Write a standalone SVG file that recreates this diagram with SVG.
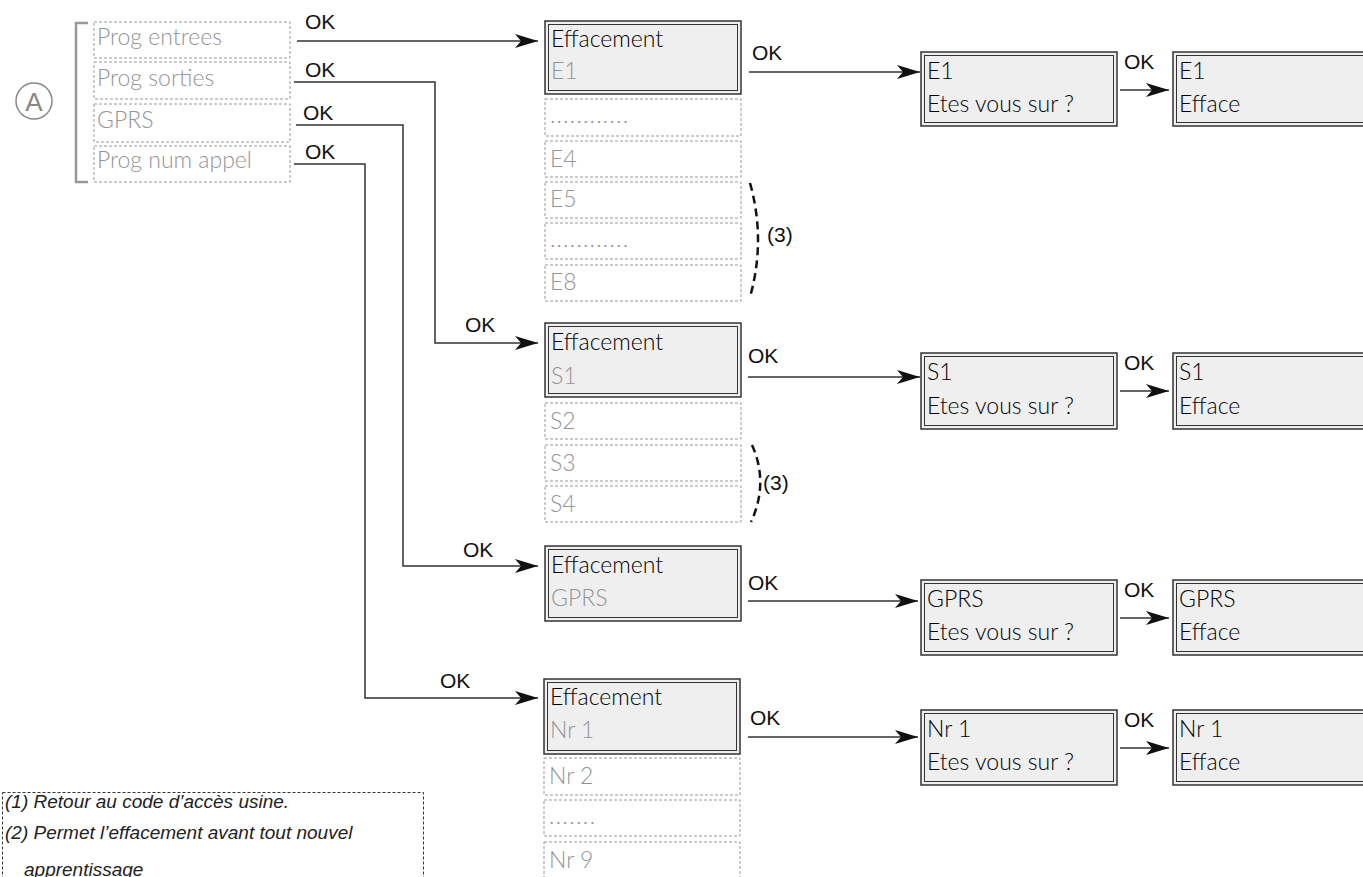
<svg xmlns="http://www.w3.org/2000/svg" width="1363" height="877" viewBox="0 0 1363 877">
<style>
.bg{fill:#fff}
.menu{fill:none;stroke:#999;stroke-width:1;stroke-dasharray:3 2}
.gt{font-family:Lato,"Noto Sans",sans-serif;font-size:23px;font-weight:300;fill:#949494}
.bt{font-family:Lato,"Noto Sans",sans-serif;font-size:23px;font-weight:300;fill:#000}
.ok{font-family:"Liberation Sans",Arial,sans-serif;font-size:21px;fill:#111}
.dbl-o{fill:#efefef;stroke:#333;stroke-width:1.5}
.dbl-i{fill:none;stroke:#333;stroke-width:1}
.con{fill:none;stroke:#333;stroke-width:1.5}
.arc{fill:none;stroke:#111;stroke-width:2.5;stroke-dasharray:8 5}
.note{font-family:"Liberation Sans",Arial,sans-serif;font-size:19px;font-style:italic;fill:#222}
</style>
<defs>
<marker id="ah" markerUnits="userSpaceOnUse" markerWidth="24" markerHeight="14" refX="23" refY="7" orient="auto">
<path d="M0,0 L23,7 L0,14 L6,7 z" fill="#111"/>
</marker>
</defs>
<rect class="bg" x="0" y="0" width="1363" height="877"/>

<g id="label-A">
<circle cx="34" cy="101" r="18" fill="none" stroke="#888" stroke-width="1.5"/>
<text x="34" y="110.5" text-anchor="middle" font-family="Liberation Sans,Arial,sans-serif" font-size="26" fill="#888">A</text>
<path d="M88,23 H76 V182 H88" fill="none" stroke="#999" stroke-width="2.5"/>
</g>

<g id="menu">
<rect class="menu" x="94" y="22" width="196" height="36"/>
<text class="gt" x="97" y="45">Prog entrees</text>
<rect class="menu" x="94" y="62" width="196" height="37"/>
<text class="gt" x="97" y="86">Prog sorties</text>
<rect class="menu" x="94" y="104" width="196" height="38"/>
<text class="gt" x="97" y="128">GPRS</text>
<rect class="menu" x="94" y="146" width="196" height="36"/>
<text class="gt" x="97" y="168">Prog num appel</text>
</g>

<g id="connectors">
<path class="con" d="M297,41 H538" marker-end="url(#ah)"/>
<path class="con" d="M294,82 H435 V343 H538" marker-end="url(#ah)"/>
<path class="con" d="M296,125 H403 V566 H538" marker-end="url(#ah)"/>
<path class="con" d="M294,164 H365 V698 H538" marker-end="url(#ah)"/>
<text class="ok" x="305" y="29">OK</text>
<text class="ok" x="305" y="77">OK</text>
<text class="ok" x="303" y="120">OK</text>
<text class="ok" x="305" y="159">OK</text>
<text class="ok" x="465" y="332">OK</text>
<text class="ok" x="463" y="557">OK</text>
<text class="ok" x="440" y="688">OK</text>

<path class="con" d="M749,72 H920" marker-end="url(#ah)"/>
<path class="con" d="M748,377 H920" marker-end="url(#ah)"/>
<path class="con" d="M748,601 H918" marker-end="url(#ah)"/>
<path class="con" d="M748,737 H918" marker-end="url(#ah)"/>
<text class="ok" x="752" y="60">OK</text>
<text class="ok" x="748" y="363">OK</text>
<text class="ok" x="748" y="590">OK</text>
<text class="ok" x="750" y="725">OK</text>

<path class="con" d="M1120,90 H1169" marker-end="url(#ah)"/>
<path class="con" d="M1120,391 H1169" marker-end="url(#ah)"/>
<path class="con" d="M1120,618 H1169" marker-end="url(#ah)"/>
<path class="con" d="M1120,748 H1169" marker-end="url(#ah)"/>
<text class="ok" x="1124" y="69">OK</text>
<text class="ok" x="1124" y="370">OK</text>
<text class="ok" x="1124" y="597">OK</text>
<text class="ok" x="1124" y="727">OK</text>

<path class="arc" d="M750,183 Q766,240 750,297"/>
<text class="ok" x="767" y="242">(3)</text>
<path class="arc" d="M752,445 Q769,483 751,522"/>
<text class="ok" x="763" y="490">(3)</text>
</g>

<g id="col-E">
<rect class="dbl-o" x="545" y="21" width="196" height="73"/>
<rect class="dbl-i" x="548.5" y="24.5" width="189" height="66"/>
<text class="bt" x="551" y="47">Effacement</text>
<text class="gt" x="551" y="79">E1</text>
<rect class="menu" x="545" y="99" width="196" height="37"/>
<text class="gt" x="550" y="123" textLength="78" lengthAdjust="spacing">............</text>
<rect class="menu" x="545" y="141" width="196" height="36"/>
<text class="gt" x="550" y="167">E4</text>
<rect class="menu" x="545" y="182" width="196" height="36"/>
<text class="gt" x="550" y="207">E5</text>
<rect class="menu" x="545" y="223" width="196" height="36"/>
<text class="gt" x="550" y="247" textLength="78" lengthAdjust="spacing">............</text>
<rect class="menu" x="545" y="265" width="196" height="36"/>
<text class="gt" x="550" y="290">E8</text>
</g>

<g id="col-S">
<rect class="dbl-o" x="545" y="323" width="196" height="74"/>
<rect class="dbl-i" x="548.5" y="326.5" width="189" height="67"/>
<text class="bt" x="551" y="350">Effacement</text>
<text class="gt" x="551" y="384">S1</text>
<rect class="menu" x="545" y="403" width="196" height="36"/>
<text class="gt" x="550" y="429">S2</text>
<rect class="menu" x="545" y="445" width="196" height="36"/>
<text class="gt" x="550" y="471">S3</text>
<rect class="menu" x="545" y="486" width="196" height="36"/>
<text class="gt" x="550" y="512">S4</text>
</g>

<g id="col-GPRS">
<rect class="dbl-o" x="545" y="546" width="196" height="75"/>
<rect class="dbl-i" x="548.5" y="549.5" width="189" height="68"/>
<text class="bt" x="551" y="573">Effacement</text>
<text class="gt" x="551" y="606">GPRS</text>
</g>

<g id="col-Nr">
<rect class="dbl-o" x="544" y="679" width="196" height="75"/>
<rect class="dbl-i" x="547.5" y="682.5" width="189" height="68"/>
<text class="bt" x="550" y="705">Effacement</text>
<text class="gt" x="550" y="738">Nr 1</text>
<rect class="menu" x="544" y="758" width="196" height="37"/>
<text class="gt" x="549" y="784">Nr 2</text>
<rect class="menu" x="544" y="800" width="196" height="36"/>
<text class="gt" x="549" y="824" textLength="46" lengthAdjust="spacing">.......</text>
<rect class="menu" x="544" y="842" width="196" height="40"/>
<text class="gt" x="549" y="868">Nr 9</text>
</g>

<g id="confirm-E">
<rect class="dbl-o" x="921" y="52" width="196" height="74"/>
<rect class="dbl-i" x="924.5" y="55.5" width="189" height="67"/>
<text class="bt" x="927" y="79">E1</text>
<text class="bt" x="927" y="112">Etes vous sur ?</text>
</g>
<g id="done-E">
<rect class="dbl-o" x="1173" y="52" width="196" height="74"/>
<rect class="dbl-i" x="1176.5" y="55.5" width="189" height="67"/>
<text class="bt" x="1179" y="79">E1</text>
<text class="bt" x="1179" y="112">Efface</text>
</g>

<g id="confirm-S">
<rect class="dbl-o" x="921" y="353" width="196" height="76"/>
<rect class="dbl-i" x="924.5" y="356.5" width="189" height="69"/>
<text class="bt" x="927" y="380">S1</text>
<text class="bt" x="927" y="414">Etes vous sur ?</text>
</g>
<g id="done-S">
<rect class="dbl-o" x="1173" y="353" width="196" height="76"/>
<rect class="dbl-i" x="1176.5" y="356.5" width="189" height="69"/>
<text class="bt" x="1179" y="380">S1</text>
<text class="bt" x="1179" y="414">Efface</text>
</g>

<g id="confirm-GPRS">
<rect class="dbl-o" x="921" y="580" width="196" height="75"/>
<rect class="dbl-i" x="924.5" y="583.5" width="189" height="68"/>
<text class="bt" x="927" y="607">GPRS</text>
<text class="bt" x="927" y="640">Etes vous sur ?</text>
</g>
<g id="done-GPRS">
<rect class="dbl-o" x="1173" y="580" width="196" height="75"/>
<rect class="dbl-i" x="1176.5" y="583.5" width="189" height="68"/>
<text class="bt" x="1179" y="607">GPRS</text>
<text class="bt" x="1179" y="640">Efface</text>
</g>

<g id="confirm-Nr">
<rect class="dbl-o" x="921" y="710" width="196" height="75"/>
<rect class="dbl-i" x="924.5" y="713.5" width="189" height="68"/>
<text class="bt" x="927" y="737">Nr 1</text>
<text class="bt" x="927" y="770">Etes vous sur ?</text>
</g>
<g id="done-Nr">
<rect class="dbl-o" x="1173" y="710" width="196" height="75"/>
<rect class="dbl-i" x="1176.5" y="713.5" width="189" height="68"/>
<text class="bt" x="1179" y="737">Nr 1</text>
<text class="bt" x="1179" y="770">Efface</text>
</g>

<g id="notes">
<rect x="2.5" y="792.5" width="421" height="100" fill="none" stroke="#333" stroke-width="1" stroke-dasharray="3 2"/>
<text class="note" x="5" y="808">(1) Retour au code d’accès usine.</text>
<text class="note" x="5" y="839">(2) Permet l’effacement avant tout nouvel</text>
<text class="note" x="24" y="876">apprentissage</text>
</g>
</svg>
